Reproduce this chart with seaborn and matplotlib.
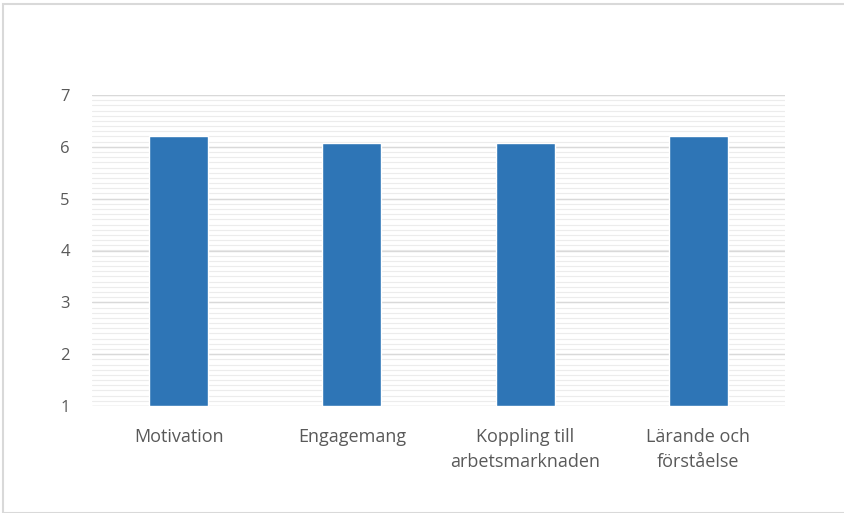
import matplotlib
matplotlib.use("Agg")
import matplotlib.pyplot as plt
import seaborn as sns
import pandas as pd
import numpy as np
from matplotlib.patches import Rectangle

categories = ["Motivation", "Engagemang", "Koppling till\narbetsmarknaden", "Lärande och\nförståelse"]
values = [6.21, 6.08, 6.08, 6.21]
yticks = [1, 2, 3, 4, 5, 6, 7]

sns.set_theme(style="white")
plt.rcParams['font.family'] = ['Open Sans', 'DejaVu Sans']

df = pd.DataFrame({"cat": categories, "val": values})

fig = plt.figure(figsize=(8.45, 5.13), dpi=100)
ax = fig.add_axes([92/845, 1-406/513, (785-92)/845, (406-95)/513])

# minor + major gridlines
for v in np.arange(1, 7.001, 0.1):
    ax.axhline(v, color="#ececec", lw=0.8, zorder=0)
for v in yticks:
    ax.axhline(v, color="#d9d9d9", lw=1.0, zorder=0)

sns.barplot(data=df, x="cat", y="val", color="#2e75b6", width=0.34, ax=ax,
            saturation=1, zorder=3)
for p in ax.patches:
    p.set_y(1)
    p.set_height(p.get_height() - 1)

ax.set_ylim(1, 7)
ax.set_xlim(-0.5, 3.5)
ax.set_yticks(yticks)
ax.set_xlabel("")
ax.set_ylabel("")
for s in ax.spines.values():
    s.set_visible(False)
ax.tick_params(axis="both", length=0, colors="#595959")
ax.tick_params(axis="y", pad=16, labelsize=12)
ax.tick_params(axis="x", pad=16, labelsize=13)
for t in ax.get_xticklabels():
    t.set_linespacing(1.45)

fig.patches.append(Rectangle((3/845, 0), 1, 1-4/513, transform=fig.transFigure,
                             fill=False, edgecolor="#d9d9d9", lw=1.5))

fig.savefig("out.png", dpi=100)
